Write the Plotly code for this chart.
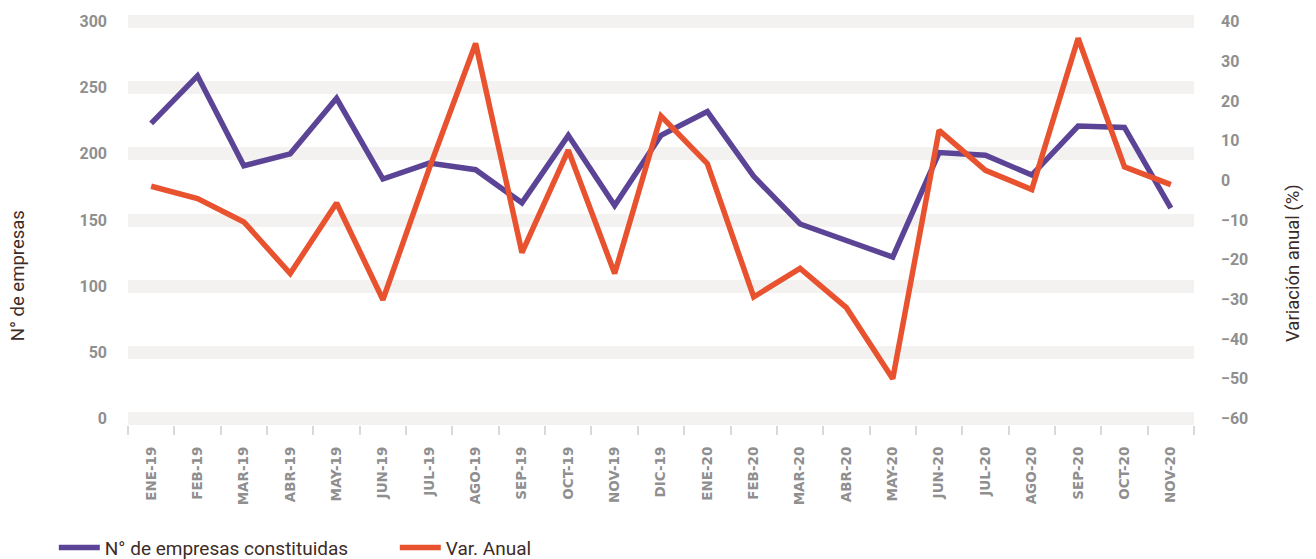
import plotly.graph_objects as go

# ── 데이터 ──────────────────────────────────────────────
meses = ["ENE-19", "FEB-19", "MAR-19", "ABR-19", "MAY-19", "JUN-19", "JUL-19",
         "AGO-19", "SEP-19", "OCT-19", "NOV-19", "DIC-19", "ENE-20", "FEB-20",
         "MAR-20", "ABR-20", "MAY-20", "JUN-20", "JUL-20", "AGO-20", "SEP-20",
         "OCT-20", "NOV-20"]
empresas = [223, 259, 191, 200, 242, 181, 193, 188, 163, 214, 161, 214, 232,
            183, 147, 134, 122, 201, 199, 184, 221, 220, 159]
var_anual = [-1.5, -4.6, -10.5, -23.5, -5.7, -30.1, 3.0, 34.5, -18.2, 7.6,
             -23.5, 16.2, 4.2, -29.4, -22.2, -32.1, -50.0, 12.6, 2.5, -2.3,
             35.8, 3.4, -1.1]
ticks_izq = [0, 50, 100, 150, 200, 250, 300]
ticks_der = [-60, -50, -40, -30, -20, -10, 0, 10, 20, 30, 40]

MORADO = "#5b4496"
NARANJA = "#e8522f"
GRIS = "#8f8f8f"
MARRON = "#3d2c27"

fig = go.Figure()
fig.add_trace(go.Scatter(
    x=meses, y=empresas, name="N° de empresas constituidas",
    mode="lines", line=dict(color=MORADO, width=5.5), yaxis="y",
))
fig.add_trace(go.Scatter(
    x=meses, y=var_anual, name="Var. Anual",
    mode="lines", line=dict(color=NARANJA, width=5.5), yaxis="y2",
))

# la página tiene 8px de margen en <body>: se compensa en los márgenes
fig.update_layout(
    width=1316, height=559,
    margin=dict(l=120, r=130, t=7, b=142, autoexpand=False),
    paper_bgcolor="white", plot_bgcolor="white",
    font=dict(family="Roboto", color=MARRON),
    showlegend=True,
    legend=dict(
        orientation="h", x=-0.0696, xanchor="left", y=-0.299, yanchor="middle",
        font=dict(size=19, color=MARRON), itemwidth=41,
        entrywidth=285, entrywidthmode="pixels",
        bgcolor="rgba(0,0,0,0)",
    ),
    xaxis=dict(
        type="category", range=[-0.5, 22.5], tickangle=-90, tickson="boundaries",
        ticks="outside", ticklen=9, tickwidth=1.5, tickcolor="#d9d9d9",
        showgrid=False, zeroline=False, showline=False,
        tickfont=dict(family="DejaVu Sans", size=13.5, color=GRIS, weight="bold"),
        ticklabelstandoff=18,
    ),
    yaxis=dict(
        range=[-5, 305], tickvals=ticks_izq,
        showgrid=True, gridcolor="#f3f2f0", gridwidth=13,
        zeroline=False, showline=False, ticks="",
        tickfont=dict(size=16, color=GRIS, weight="bold"),
        ticklabelstandoff=20,
    ),
    yaxis2=dict(
        range=[-61.667, 41.667], tickvals=ticks_der,
        overlaying="y", side="right",
        showgrid=False, zeroline=False, showline=False, ticks="",
        tickfont=dict(size=16, color=GRIS, weight="bold"),
        ticklabelstandoff=26,
    ),
    annotations=[
        dict(text="N° de empresas", xref="paper", yref="paper",
             x=0, y=0.363, xanchor="center", yanchor="middle", xshift=-110,
             textangle=-90, showarrow=False, font=dict(size=18.5, color=MARRON)),
        dict(text="Variación anual (%)", xref="paper", yref="paper",
             x=1, y=0.395, xanchor="center", yanchor="middle", xshift=99,
             textangle=-90, showarrow=False, font=dict(size=18.5, color=MARRON)),
    ],
)

fig.write_html("out.html")
